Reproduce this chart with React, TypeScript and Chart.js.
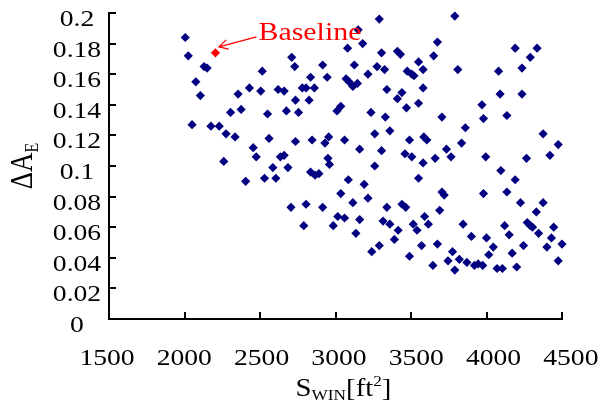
import React, { useEffect, useRef } from 'react';
import { Chart, registerables } from 'chart.js';

Chart.register(...registerables);

// ---- data ----
const SWIN = [
  2005, 2025, 2130, 2150, 2075, 2105, 2050, 2175, 2230, 2275,
  2335, 2305, 2375, 2355, 2430, 2505, 2515, 2455, 2475, 2260,
  2550, 2560, 2620, 2660, 2675, 2710, 2730, 2735, 2735, 2755,
  2635, 2660, 2585, 2685, 2405, 2530, 2605, 2705, 2805, 2790,
  2780, 2805, 2835, 2825, 2845, 2860, 2945, 2915, 3080, 3150,
  3180, 3290, 3305, 3410, 3430, 3125, 3275, 3325, 3215, 3070,
  3090, 3115, 3145, 3340, 3440, 3410, 3550, 3580, 3475, 3505,
  3520, 3580, 3550, 3470, 3010, 3035, 3235, 3330, 3675, 3650,
  3790, 3810, 4080, 4190, 4335, 4290, 4235, 4090, 4235, 3970,
  3980, 4135, 3705, 3860, 3260, 3360, 2930, 2955, 3060, 3160,
  3305, 3490, 3585, 3605, 3735, 3765, 3835, 3460, 3505, 3660,
  3580, 3995, 4265, 4375, 4475, 4420, 2950, 2960, 3260, 4095,
  4190, 2835, 2865, 2890, 3085, 3550, 3190, 3035, 3115, 3215,
  2915, 3015, 3060, 2985, 3160, 3135, 3340, 3440, 3465, 3315,
  3360, 3415, 3390, 3290, 3240, 3490, 3515, 3540, 3590, 3615,
  3570, 3645, 3690, 3705, 3720, 3675, 3745, 3775, 3790, 3820,
  3845, 3870, 3900, 3920, 3945, 3975, 3980, 4000, 4015, 4045,
  4070, 4105, 4120, 4135, 4150, 4170, 4200, 4225, 4245, 4270,
  4290, 4305, 4330, 4345, 4375, 4400, 4430, 4445, 4475, 4500,
];

const DELTA_AE = [
  0.184, 0.172, 0.165, 0.164, 0.155, 0.146, 0.127, 0.126, 0.126, 0.121,
  0.119, 0.135, 0.137, 0.147, 0.151, 0.149, 0.162, 0.112, 0.106, 0.103,
  0.134, 0.118, 0.150, 0.149, 0.136, 0.171, 0.165, 0.143, 0.116, 0.135,
  0.106, 0.107, 0.099, 0.099, 0.090, 0.092, 0.092, 0.073, 0.075, 0.061,
  0.151, 0.151, 0.158, 0.143, 0.117, 0.151, 0.158, 0.166, 0.177, 0.189,
  0.180, 0.196, 0.174, 0.175, 0.173, 0.166, 0.165, 0.163, 0.160, 0.157,
  0.155, 0.152, 0.154, 0.150, 0.148, 0.144, 0.168, 0.163, 0.162, 0.160,
  0.159, 0.151, 0.141, 0.138, 0.136, 0.139, 0.135, 0.132, 0.181, 0.172,
  0.198, 0.163, 0.162, 0.177, 0.177, 0.171, 0.164, 0.147, 0.147, 0.140,
  0.131, 0.133, 0.132, 0.125, 0.121, 0.123, 0.115, 0.119, 0.117, 0.111,
  0.110, 0.117, 0.119, 0.117, 0.111, 0.106, 0.115, 0.108, 0.106, 0.105,
  0.102, 0.106, 0.105, 0.121, 0.114, 0.107, 0.105, 0.101, 0.100, 0.097,
  0.091, 0.096, 0.094, 0.095, 0.091, 0.092, 0.088, 0.082, 0.076, 0.079,
  0.073, 0.067, 0.066, 0.061, 0.065, 0.056, 0.073, 0.075, 0.073, 0.064,
  0.062, 0.058, 0.052, 0.048, 0.044, 0.041, 0.062, 0.058, 0.067, 0.062,
  0.048, 0.035, 0.071, 0.083, 0.081, 0.049, 0.038, 0.044, 0.032, 0.039,
  0.062, 0.037, 0.054, 0.035, 0.036, 0.035, 0.082, 0.053, 0.042, 0.047,
  0.033, 0.033, 0.061, 0.083, 0.055, 0.043, 0.034, 0.076, 0.048, 0.063,
  0.061, 0.060, 0.070, 0.056, 0.076, 0.047, 0.053, 0.060, 0.038, 0.049,
];

const BASELINE_SWIN = [2205];
const BASELINE_DAE = [0.174];
const ANNOTATION_TEXT = 'Baseline';

const X_TICKS = [1500, 2000, 2500, 3000, 3500, 4000, 4500];
const X_TICK_LABELS = ['1500', '2000', '2500', '3000', '3500', '4000', '4500'];
const Y_TICKS = [0, 0.02, 0.04, 0.06, 0.08, 0.1, 0.12, 0.14, 0.16, 0.18, 0.2];
const Y_TICK_LABELS = ['0', '0.02', '0.04', '0.06', '0.08', '0.1', '0.12', '0.14', '0.16', '0.18', '0.2'];

type Part = { t: string; s: number; dy?: number };
const X_TITLE: Part[] = [
  { t: 'S', s: 25 },
  { t: 'WIN', s: 15, dy: 4 },
  { t: '[ft', s: 25 },
  { t: '2', s: 15, dy: -10 },
  { t: ']', s: 25 },
];
const Y_TITLE: Part[] = [
  { t: '\u0394A', s: 27 },
  { t: 'E', s: 16, dy: 5 },
];

const FONT = '"Liberation Serif", "Times New Roman", serif';
const SX = 1.15; // horizontal stretch of the reference's text

function measure(ctx: CanvasRenderingContext2D, parts: Part[]) {
  let w = 0;
  for (const p of parts) {
    ctx.font = `${p.s}px ${FONT}`;
    w += ctx.measureText(p.t).width;
  }
  return w;
}

function drawRich(
  ctx: CanvasRenderingContext2D,
  parts: Part[],
  x: number,
  y: number,
  align: 'left' | 'center' | 'right',
  color: string,
  rot = 0
) {
  ctx.save();
  ctx.translate(x, y);
  ctx.scale(SX, 1);
  if (rot) ctx.rotate(rot);
  const w = measure(ctx, parts);
  let cx = align === 'left' ? 0 : align === 'center' ? -w / 2 : -w;
  ctx.fillStyle = color;
  ctx.textAlign = 'left';
  ctx.textBaseline = 'alphabetic';
  for (const p of parts) {
    ctx.font = `${p.s}px ${FONT}`;
    ctx.fillText(p.t, cx, p.dy || 0);
    cx += ctx.measureText(p.t).width;
  }
  ctx.restore();
}

const decor = {
  id: 'decor',
  afterDraw(chart: any) {
    const { ctx, chartArea: a } = chart;
    const xs = chart.scales.x;
    const ys = chart.scales.y;
    ctx.save();
    // inward tick marks
    ctx.strokeStyle = '#000';
    ctx.lineWidth = 2;
    ctx.beginPath();
    Y_TICKS.forEach((v) => {
      const p = Math.round(ys.getPixelForValue(v));
      ctx.moveTo(a.left, p);
      ctx.lineTo(a.left + 7, p);
    });
    X_TICKS.forEach((v) => {
      const p = Math.round(xs.getPixelForValue(v));
      if (p <= a.left + 1) return;
      ctx.moveTo(p, a.bottom);
      ctx.lineTo(p, a.bottom - 7);
    });
    ctx.stroke();

    // tick labels
    Y_TICKS.forEach((v, i) => {
      drawRich(ctx, [{ t: Y_TICK_LABELS[i], s: 24 }], a.left - 32, ys.getPixelForValue(v) + 13, 'center', '#000');
    });
    X_TICKS.forEach((v, i) => {
      const p = xs.getPixelForValue(v);
      const lx = a.left - 2 + (p - a.left) * 1.024;
      drawRich(ctx, [{ t: X_TICK_LABELS[i], s: 24 }], lx, a.bottom + 46, 'center', '#000');
    });

    // axis titles
    drawRich(ctx, X_TITLE, (a.left + a.right) / 2 + 8, a.bottom + 77, 'center', '#000');
    drawRich(ctx, Y_TITLE, 32, (a.top + a.bottom) / 2, 'center', '#000', -Math.PI / 2);

    // annotation for the baseline point
    const pt = chart.getDatasetMeta(0).data[0];
    if (pt) {
      const tipX = pt.x + 3.5;
      const tipY = pt.y - 6;
      const tailX = pt.x + 41;
      const tailY = pt.y - 16;
      ctx.strokeStyle = '#FF0000';
      ctx.lineWidth = 1.3;
      ctx.beginPath();
      ctx.moveTo(tailX, tailY);
      ctx.lineTo(tipX, tipY);
      const ang = Math.atan2(tailY - tipY, tailX - tipX);
      const L = 10;
      const spread = 0.5;
      ctx.moveTo(tipX + L * Math.cos(ang - spread), tipY + L * Math.sin(ang - spread));
      ctx.lineTo(tipX, tipY);
      ctx.lineTo(tipX + L * Math.cos(ang + spread), tipY + L * Math.sin(ang + spread));
      ctx.stroke();
      drawRich(ctx, [{ t: ANNOTATION_TEXT, s: 26 }], pt.x + 43, pt.y - 12.5, 'left', '#FF0000');
    }
    ctx.restore();
  },
};

export default function App() {
  const ref = useRef<HTMLCanvasElement>(null);

  useEffect(() => {
    const mainPoints = SWIN.map((x, i) => ({ x, y: DELTA_AE[i] }));
    const basePoints = BASELINE_SWIN.map((x, i) => ({ x, y: BASELINE_DAE[i] }));
    const chart = new Chart(ref.current as HTMLCanvasElement, {
      type: 'scatter',
      data: {
        datasets: [
          {
            label: 'Baseline',
            data: basePoints,
            pointStyle: 'rectRot',
            pointRadius: 4.6,
            backgroundColor: '#FF0000',
            borderColor: '#FF0000',
            borderWidth: 0,
            clip: false,
          } as any,
          {
            label: 'Designs',
            data: mainPoints,
            pointStyle: 'rectRot',
            pointRadius: 4.6,
            backgroundColor: '#000080',
            borderColor: '#000080',
            borderWidth: 0,
            clip: false,
          } as any,
        ],
      },
      options: {
        animation: false,
        responsive: false,
        devicePixelRatio: 1,
        events: [],
        layout: { padding: { top: 13, right: 37, bottom: 0, left: 0 } },
        plugins: {
          legend: { display: false },
          tooltip: { enabled: false },
        },
        scales: {
          x: {
            type: 'linear',
            min: 1500,
            max: 4500,
            ticks: { display: false, stepSize: 500 },
            grid: { display: true, drawOnChartArea: false, drawTicks: false },
            border: { display: true, color: '#000', width: 2 },
            afterFit: (s: any) => {
              s.height = 95;
            },
          },
          y: {
            type: 'linear',
            min: 0,
            max: 0.2,
            ticks: { display: false, stepSize: 0.02 },
            grid: { display: true, drawOnChartArea: false, drawTicks: false },
            border: { display: true, color: '#000', width: 2 },
            afterFit: (s: any) => {
              s.width = 109;
            },
          },
        },
      },
      plugins: [decor],
    });
    return () => chart.destroy();
  }, []);

  return (
    <div style={{ position: 'fixed', left: 0, top: 0, width: 599, height: 414, background: '#fff' }}>
      <canvas ref={ref} width={599} height={414} style={{ display: 'block' }} />
    </div>
  );
}
